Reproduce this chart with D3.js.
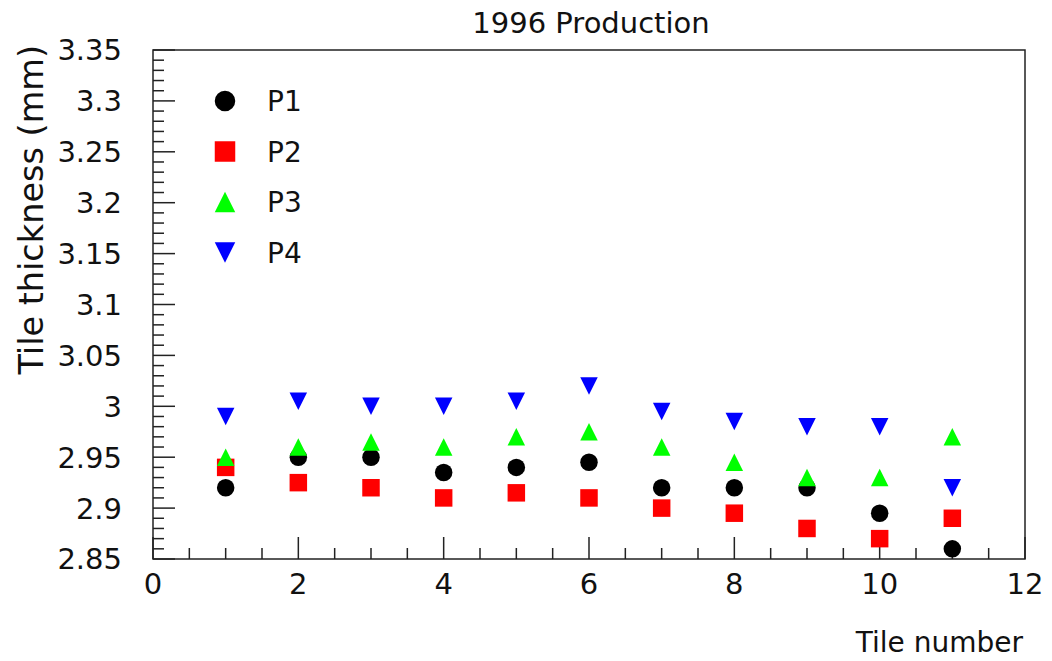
<!DOCTYPE html>
<html>
<head>
<meta charset="utf-8">
<script src="https://cdn.jsdelivr.net/npm/d3@7"></script>
<style>
  body { margin: 0; background: #fff; }
  text { font-family: "DejaVu Sans", sans-serif; fill: #111; }
</style>
</head>
<body>
<div id="chart"></div>
<script>
var svgWidth = 1052;
var svgHeight = 661;

var margin = { top: 50, right: 27, bottom: 102, left: 153 };
var width = svgWidth - margin.left - margin.right;
var height = svgHeight - margin.top - margin.bottom;

// data
var tiles = [1, 2, 3, 4, 5, 6, 7, 8, 9, 10, 11];
var p1 = [2.92, 2.95, 2.95, 2.935, 2.94, 2.945, 2.92, 2.92, 2.92, 2.895, 2.86];
var p2 = [2.94, 2.925, 2.92, 2.91, 2.915, 2.91, 2.90, 2.895, 2.88, 2.87, 2.89];
var p3 = [2.95, 2.96, 2.965, 2.96, 2.97, 2.975, 2.96, 2.945, 2.93, 2.93, 2.97];
var p4 = [2.99, 3.005, 3.00, 3.00, 3.005, 3.02, 2.995, 2.985, 2.98, 2.98, 2.92];
var seriesNames = ["P1", "P2", "P3", "P4"];
var seriesColors = ["#000000", "#ff0000", "#00ff00", "#0000ff"];
var seriesShapes = ["circle", "square", "triUp", "triDown"];
var yTicks = [2.85, 2.9, 2.95, 3, 3.05, 3.1, 3.15, 3.2, 3.25, 3.3, 3.35];
var xTicks = [0, 2, 4, 6, 8, 10, 12];

var series = [p1, p2, p3, p4];

var svg = d3.select("#chart")
  .append("svg")
  .attr("width", svgWidth)
  .attr("height", svgHeight);

var chartGroup = svg.append("g")
  .attr("transform", `translate(${margin.left}, ${margin.top})`);

var xScale = d3.scaleLinear().domain([0, 12]).range([0, width]);
var yScale = d3.scaleLinear().domain([2.85, 3.35]).range([height, 0]);

// marker path, s = full size in px
function markerPath(shape, s) {
  var h = s / 2;
  if (shape === "circle") {
    return `M${-h},0A${h},${h} 0 1,0 ${h},0A${h},${h} 0 1,0 ${-h},0Z`;
  } else if (shape === "square") {
    return `M${-h},${-h}H${h}V${h}H${-h}Z`;
  } else if (shape === "triUp") {
    return `M0,${-h}L${h},${h}L${-h},${h}Z`;
  } else {
    return `M0,${h}L${h},${-h}L${-h},${-h}Z`;
  }
}

// frame
chartGroup.append("rect")
  .attr("width", width)
  .attr("height", height)
  .attr("fill", "none")
  .attr("stroke", "#222")
  .attr("stroke-width", 1.5);

// left axis: major + minor ticks
var yMinor = d3.range(2.85, 3.3501, 0.01);
chartGroup.selectAll(".yminor")
  .data(yMinor)
  .enter()
  .append("line")
  .attr("x1", 0)
  .attr("x2", d => (Math.abs(Math.round(d * 100) % 5) === 0) ? 22 : 11)
  .attr("y1", d => yScale(d))
  .attr("y2", d => yScale(d))
  .attr("stroke", "#222")
  .attr("stroke-width", 1.5);

chartGroup.selectAll(".ylab")
  .data(yTicks)
  .enter()
  .append("text")
  .attr("x", -31)
  .attr("y", d => yScale(d))
  .attr("dy", "0.36em")
  .attr("text-anchor", "end")
  .style("font-size", "29px")
  .text(d => d3.format("")(d));

// bottom axis
var xMinor = d3.range(0, 12.01, 0.5);
chartGroup.selectAll(".xminor")
  .data(xMinor)
  .enter()
  .append("line")
  .attr("x1", d => xScale(d))
  .attr("x2", d => xScale(d))
  .attr("y1", height)
  .attr("y2", d => (d % 2 === 0) ? height - 22 : height - 11)
  .attr("stroke", "#222")
  .attr("stroke-width", 1.5);

chartGroup.selectAll(".xlab")
  .data(xTicks)
  .enter()
  .append("text")
  .attr("x", d => xScale(d))
  .attr("y", height + 35)
  .attr("text-anchor", "middle")
  .style("font-size", "29px")
  .text(d => d);

// axis titles and title
chartGroup.append("text")
  .attr("x", width - 2)
  .attr("y", height + 93)
  .attr("text-anchor", "end")
  .style("font-size", "28px")
  .text("Tile number");

chartGroup.append("text")
  .attr("transform", "rotate(-90)")
  .attr("x", 5)
  .attr("y", -110)
  .attr("text-anchor", "end")
  .style("font-size", "33.5px")
  .text("Tile thickness (mm)");

svg.append("text")
  .attr("x", 591)
  .attr("y", 33)
  .attr("text-anchor", "middle")
  .style("font-size", "29px")
  .text("1996 Production");

// points
series.forEach(function(vals, i) {
  chartGroup.selectAll(".pt" + i)
    .data(tiles.map((t, j) => ({ x: t, y: vals[j] })))
    .enter()
    .append("path")
    .attr("d", markerPath(seriesShapes[i], 17.5))
    .attr("transform", d => `translate(${xScale(d.x)}, ${yScale(d.y)})`)
    .attr("fill", seriesColors[i]);
});

// legend
var legend = svg.append("g");
seriesNames.forEach(function(name, i) {
  var ly = 101 + i * 50.5;
  legend.append("path")
    .attr("d", markerPath(seriesShapes[i], 20.5))
    .attr("transform", `translate(225, ${ly})`)
    .attr("fill", seriesColors[i]);
  legend.append("text")
    .attr("x", 267)
    .attr("y", ly + 10)
    .style("font-size", "28px")
    .text(name);
});
</script>
</body>
</html>
